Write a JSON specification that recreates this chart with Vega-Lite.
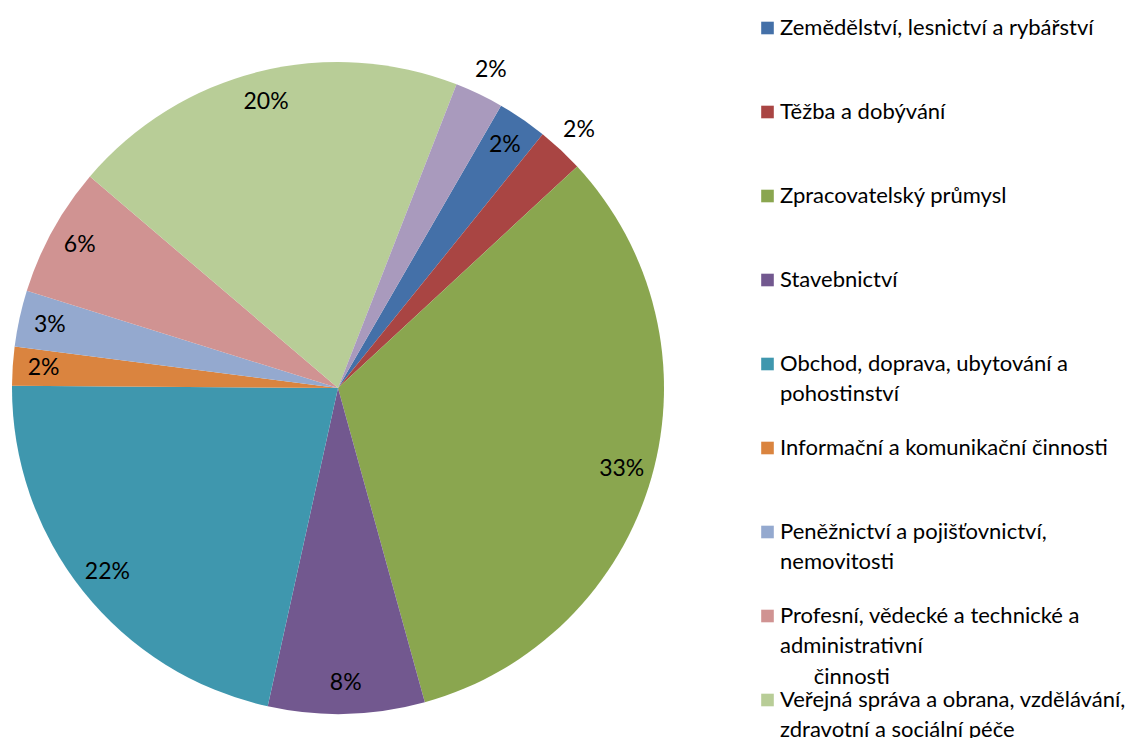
{
  "$schema": "https://vega.github.io/schema/vega-lite/v6.json",
  "background": "white",
  "padding": 0,
  "spacing": 84.5,
  "config": {"view": {"stroke": null}, "font": "Lato"},
  "data": {
    "values": [
      {"idx": 1, "category": "Zemědělství, lesnictví a rybářství", "share": 0.0247},
      {"idx": 2, "category": "Těžba a dobývání", "share": 0.0231},
      {"idx": 3, "category": "Zpracovatelský průmysl", "share": 0.326},
      {"idx": 4, "category": "Stavebnictví", "share": 0.0775},
      {"idx": 5, "category": "Obchod, doprava, ubytování a\npohostinství", "share": 0.2165},
      {"idx": 6, "category": "Informační a komunikační činnosti", "share": 0.0192},
      {"idx": 7, "category": "Peněžnictví a pojišťovnictví,\nnemovitosti", "share": 0.0279},
      {"idx": 8, "category": "Profesní, vědecké a technické a\nadministrativní\n\u200b\u00a0\u00a0\u00a0\u00a0\u00a0\u00a0činnosti", "share": 0.0642},
      {"idx": 9, "category": "Veřejná správa a obrana, vzdělávání,\nzdravotní a sociální péče", "share": 0.1969},
      {"idx": 10, "category": "Ostatní činnosti", "share": 0.0241}
    ]
  },
  "hconcat": [
    {
      "width": 676,
      "height": 776,
      "encoding": {
        "theta": {"field": "share", "type": "quantitative", "stack": true, "scale": {"range": [0.5235988, 6.8067841]}},
        "order": {"field": "idx", "type": "quantitative", "sort": "ascending"}
      },
      "layer": [
        {
          "mark": {"type": "arc", "outerRadius": 326, "stroke": null},
          "encoding": {
            "color": {
              "field": "category", "type": "nominal", "sort": {"field": "idx"}, "legend": null,
              "scale": {"range": ["#4470A8", "#A94543", "#8AA64F", "#72588F", "#3F97AE", "#DA843F", "#94A9CF", "#D09392", "#B8CD97", "#A99ABD"]}
            }
          }
        },
        {
          "mark": {"type": "text", "radius": {"expr": "datum.idx == 2 || datum.idx == 10 ? 353 : 295"}, "fontSize": 23, "font": "Lato", "fill": "#000000"},
          "encoding": {
            "detail": {"field": "category"},
            "text": {"field": "share", "type": "quantitative", "format": ".0%"}
          }
        }
      ]
    },
    {
      "width": 371,
      "height": {"step": 84},
      "encoding": {
        "y": {"field": "idx", "type": "ordinal", "axis": null, "scale": {"type": "point", "padding": 0.3333}},
        "x": {"datum": 0, "type": "quantitative", "axis": null, "scale": {"domain": [0, 1]}}
      },
      "layer": [
        {
          "mark": {"type": "square", "size": 159, "opacity": 1, "filled": true},
          "encoding": {
            "color": {
              "field": "category", "type": "nominal", "sort": {"field": "idx"}, "legend": null,
              "scale": {"range": ["#4470A8", "#A94543", "#8AA64F", "#72588F", "#3F97AE", "#DA843F", "#94A9CF", "#D09392", "#B8CD97", "#A99ABD"]}
            }
          }
        },
        {
          "mark": {"type": "text", "align": "left", "baseline": "middle", "dx": 12.5, "fontSize": 22, "font": "Lato", "lineBreak": "\n", "lineHeight": 30.5, "fill": "#000000"},
          "encoding": {"text": {"field": "category"}}
        }
      ]
    }
  ]
}
